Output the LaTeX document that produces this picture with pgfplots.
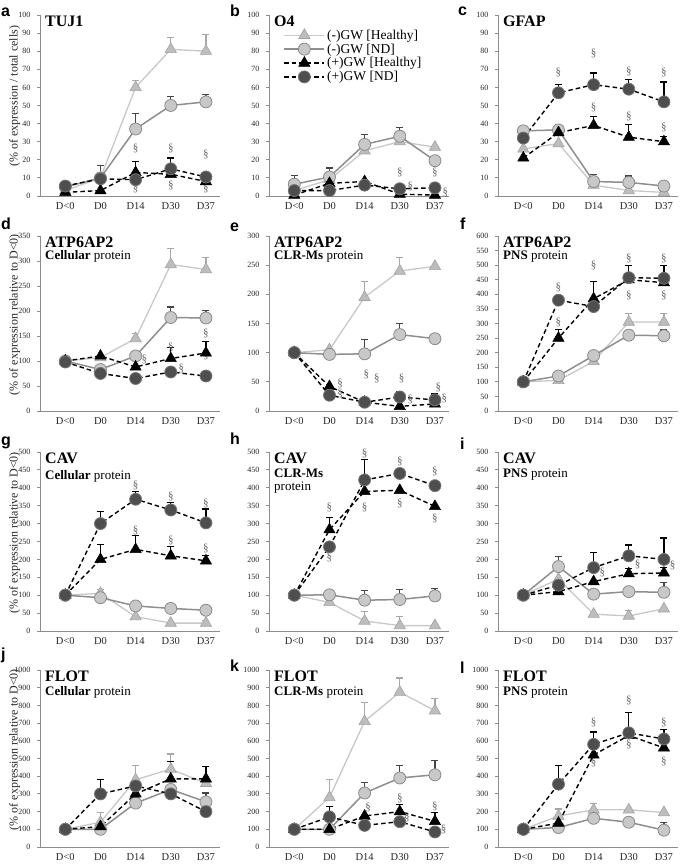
\documentclass[border=0pt]{standalone}
\usepackage{pgfplots}
\pgfplotsset{compat=1.18}
\usepackage{fontspec}
\setmainfont{Liberation Serif}
\newfontfamily\arial{Liberation Sans}

\definecolor{c1line}{HTML}{C8C8C8}
\definecolor{c1fill}{HTML}{BDBDBD}
\definecolor{c1edge}{HTML}{A2A2A2}
\definecolor{c1err}{HTML}{A8A8A8}
\definecolor{c2line}{HTML}{8E8E8E}
\definecolor{c2fill}{HTML}{C8C8C8}
\definecolor{c2edge}{HTML}{8A8A8A}
\definecolor{c2err}{HTML}{454545}
\definecolor{c4fill}{HTML}{4E4E4E}
\definecolor{c4edge}{HTML}{767676}
\definecolor{axgray}{HTML}{8C8C8C}
\definecolor{sgray}{HTML}{666666}

\pgfplotsset{
  pan/.style={scale only axis, width=180pt, anchor=south west, clip=false,
    xmin=-0.72, xmax=4.4, ymin=0,
    xtick={0,1,2,3,4}, xticklabels={D<0,D0,D14,D30,D37},
    axis x line*=bottom, axis y line*=left,
    axis line style={draw=axgray, line width=0.9pt, -},
    tick align=outside, major tick length=3pt,
    xtick style={draw=none}, ytick style={draw=axgray, line width=0.8pt},
    xticklabel style={font=\fontsize{10.5}{12}\selectfont, text=black!85},
    yticklabel style={font=\fontsize{8}{9}\selectfont, text=black!85, xshift=-3pt},
    /pgf/number format/assume math mode=true, /pgf/number format/1000 sep={},
    ylabel style={font=\fontsize{12}{13}\selectfont, text=black!85, at={(axis description cs:-0.14,0.55)}, anchor=center},
  },
  s1/.style={color=c1line, line width=1.3pt, mark=triangle*, mark size=6.5pt,
    mark options={fill=c1fill, draw=c1edge, line width=0.6pt}},
  s2/.style={color=c2line, line width=1.5pt, mark=*, mark size=6pt,
    mark options={fill=c2fill, draw=c2edge, line width=0.8pt}},
  s3/.style={color=black, line width=1.4pt, dash pattern=on 4.5pt off 3pt, mark=triangle*, mark size=6.5pt,
    mark options={solid, fill=black, draw=black, line width=0.5pt}},
  s4/.style={color=black, line width=1.4pt, dash pattern=on 4.5pt off 3pt, mark=*, mark size=6pt,
    mark options={solid, fill=c4fill, draw=c4edge, line width=0.8pt}},
  eb/.style={forget plot, draw=none, mark=none,
    error bars/.cd, y dir=plus, y explicit, error mark=|,
    error bar style={draw=#1, line width=1.2pt, solid},
    error mark options={draw=#1, line width=1.2pt, mark size=3.5pt}},
}

\newcommand{\sect}[2]{\node[inner sep=0, text=sgray, font=\fontsize{11}{11}\selectfont] at (axis cs:#1,#2) {\S};}
\newcommand{\ttl}[1]{\node[anchor=base west, inner sep=0, xshift=5pt, yshift=-12pt, font=\fontsize{16}{16}\selectfont\bfseries] at (rel axis cs:0,1) {#1};}
\newcommand{\sub}[2]{\node[anchor=base west, inner sep=0, xshift=5pt, yshift=-#1, font=\fontsize{13}{14}\selectfont] at (rel axis cs:0,1) {#2};}

\begin{document}
\begin{tikzpicture}
\path[use as bounding box] (0,0) rectangle (685pt,866pt);

% ---------- a: TUJ1
\begin{axis}[pan, at={(40pt,670pt)}, height=181pt, ymax=100, ytick={0,10,...,100},
  ylabel={(\% of expression / total cells)}]
\addplot[eb=c1err] coordinates {(2,60) +- (0,4) (3,81) +- (0,6.5) (4,80) +- (0,9)};
\addplot[eb=c2err] coordinates {(1,10) +- (0,7) (2,37) +- (0,8.5) (3,50) +- (0,5) (4,52) +- (0,4)};
\addplot[eb=black] coordinates {(2,13) +- (0,6)};
\addplot[eb=black] coordinates {(3,15) +- (0,6)};
\addplot[s1] coordinates {(0,3) (1,10) (2,60) (3,81) (4,80)};
\addplot[s2] coordinates {(0,5) (1,10) (2,37) (3,50) (4,52)};
\addplot[s3] coordinates {(0,2) (1,3) (2,13) (3,12) (4,8)};
\addplot[s4] coordinates {(0,5.5) (1,9.5) (2,9) (3,15) (4,10.5)};
\sect{2}{26}\sect{2}{4}\sect{3}{26}\sect{3}{6}\sect{4}{23}\sect{4}{4}
\ttl{TUJ1}
\end{axis}

% ---------- b: O4
\begin{axis}[pan, at={(269pt,670pt)}, height=181pt, ymax=100, ytick={0,10,...,100},
  legend entries={(-)GW [Healthy],(-)GW [ND],(+)GW [Healthy],(+)GW [ND]},
  legend style={draw=none, fill=none, at={(axis description cs:0.08,0.93)}, anchor=north west,
    font=\fontsize{13.5}{15}\selectfont, row sep=-1pt, inner sep=0pt, cells={anchor=west}},
  legend image code/.code={\draw[mark repeat=2,mark phase=2] plot coordinates {(0pt,0pt)(20pt,0pt)(40pt,0pt)};}]
\addplot[eb=c2err] coordinates {(0,6.5) +- (0,5) (1,10.5) +- (0,5) (2,28.5) +- (0,5.5) (3,33) +- (0,5)};
\addplot[s1] coordinates {(0,3) (1,9) (2,25) (3,30) (4,27)};
\addplot[s2] coordinates {(0,6.5) (1,10.5) (2,28.5) (3,33) (4,19.5)};
\addplot[s3] coordinates {(0,0.5) (1,7) (2,8) (3,1) (4,0.5)};
\addplot[s4] coordinates {(0,3) (1,3) (2,6) (3,4) (4,4.5)};
\sect{3}{13}\sect{3.3}{5}\sect{4}{13}\sect{4.3}{2}
\ttl{O4}
\end{axis}

% ---------- c: GFAP
\begin{axis}[pan, at={(498pt,670pt)}, height=181pt, ymax=100, ytick={0,10,...,100}]
\addplot[eb=c2err] coordinates {(2,8) +- (0,4) (3,7.5) +- (0,3.5)};
\addplot[eb=black] coordinates {(2,39) +- (0,5) (3,32.5) +- (0,7) (4,30) +- (0,3)};
\addplot[eb=black] coordinates {(1,57) +- (0,4.5) (2,61.5) +- (0,6.5) (3,59) +- (0,5.5) (4,52) +- (0,11)};
\addplot[s1] coordinates {(0,26) (1,29) (2,6) (3,3) (4,2)};
\addplot[s2] coordinates {(0,36) (1,36.5) (2,8) (3,7.5) (4,5.5)};
\addplot[s3] coordinates {(0,21) (1,35) (2,39) (3,32.5) (4,30)};
\addplot[s4] coordinates {(0,32) (1,57) (2,61.5) (3,59) (4,52)};
\sect{1}{68}\sect{2}{79}\sect{3}{69}\sect{4}{68}\sect{2}{49}\sect{3}{44}\sect{4}{38}
\ttl{GFAP}
\end{axis}

% ---------- d: ATP6AP2 cellular
\begin{axis}[pan, at={(40pt,455pt)}, height=175pt, ymax=350, ytick={0,50,...,350},
  ylabel={(\% of expression relative to D<0)}]
\addplot[eb=c1err] coordinates {(2,145) +- (0,10) (3,293) +- (0,32) (4,283) +- (0,24)};
\addplot[eb=c2err] coordinates {(3,187) +- (0,21) (4,186) +- (0,15)};
\addplot[eb=black] coordinates {(3,105) +- (0,22) (4,116) +- (0,23)};
\addplot[s1] coordinates {(0,100) (1,107) (2,145) (3,293) (4,283)};
\addplot[s2] coordinates {(0,100) (1,83) (2,110) (3,187) (4,186)};
\addplot[s3] coordinates {(0,100) (1,110) (2,88) (3,105) (4,116)};
\addplot[s4] coordinates {(0,98) (1,75) (2,65) (3,78) (4,70)};
\sect{2.25}{103}\sect{3}{128}\sect{3.3}{85}\sect{4}{155}\sect{4}{112}
\ttl{ATP6AP2}\sub{24pt}{\textbf{Cellular} protein}
\end{axis}

% ---------- e: ATP6AP2 CLR-Ms
\begin{axis}[pan, at={(269pt,455pt)}, height=175pt, ymax=300, ytick={0,50,...,300}]
\addplot[eb=c1err] coordinates {(2,195) +- (0,27) (3,240) +- (0,23)};
\addplot[eb=c2err] coordinates {(2,98) +- (0,24) (3,131) +- (0,19)};
\addplot[eb=black] coordinates {(3,24) +- (0,10) (4,19) +- (0,10)};
\addplot[s1] coordinates {(0,100) (1,105) (2,195) (3,240) (4,248)};
\addplot[s2] coordinates {(0,100) (1,97) (2,98) (3,131) (4,124)};
\addplot[s3] coordinates {(0,100) (1,42) (2,15) (3,8) (4,12)};
\addplot[s4] coordinates {(0,100) (1,27) (2,15) (3,24) (4,19)};
\sect{1.3}{47}\sect{1.3}{30}\sect{2.05}{62}\sect{2.35}{56}\sect{3.05}{56}\sect{3.3}{20}\sect{4.1}{40}\sect{4.27}{21}
\ttl{ATP6AP2}\sub{24pt}{\textbf{CLR-Ms} protein}
\end{axis}

% ---------- f: ATP6AP2 PNS
\begin{axis}[pan, at={(498pt,455pt)}, height=175pt, ymax=600, ytick={0,50,...,600}]
\addplot[eb=c1err] coordinates {(3,305) +- (0,30) (4,305) +- (0,30)};
\addplot[eb=c2err] coordinates {(2,190) +- (0,15) (4,258) +- (0,20)};
\addplot[eb=black] coordinates {(1,250) +- (0,30) (2,385) +- (0,60)};
\addplot[eb=black] coordinates {(3,457) +- (0,43) (4,455) +- (0,45)};
\addplot[s1] coordinates {(0,100) (1,105) (2,170) (3,305) (4,305)};
\addplot[s2] coordinates {(0,100) (1,120) (2,190) (3,260) (4,258)};
\addplot[s3] coordinates {(0,100) (1,250) (2,385) (3,450) (4,440)};
\addplot[s4] coordinates {(0,100) (1,380) (2,358) (3,457) (4,455)};
\sect{1}{425}\sect{1}{303}\sect{2}{500}\sect{3}{522}\sect{3}{397}\sect{4}{522}\sect{4}{397}
\ttl{ATP6AP2}\sub{24pt}{\textbf{PNS} protein}
\end{axis}

% ---------- g: CAV cellular
\begin{axis}[pan, at={(40pt,235pt)}, height=179pt, ymax=500, ytick={0,50,...,500},
  ylabel={(\% of expression relative to D<0)}]
\addplot[eb=c1err] coordinates {(1,105) +- (0,12) (4,22) +- (0,8)};
\addplot[eb=black] coordinates {(1,200) +- (0,42) (2,228) +- (0,39) (3,210) +- (0,27) (4,196) +- (0,16)};
\addplot[eb=black] coordinates {(1,300) +- (0,33) (2,368) +- (0,22) (3,338) +- (0,22) (4,302) +- (0,39)};
\addplot[s1] coordinates {(0,100) (1,105) (2,40) (3,22) (4,22)};
\addplot[s2] coordinates {(0,100) (1,93) (2,70) (3,63) (4,58)};
\addplot[s3] coordinates {(0,100) (1,200) (2,228) (3,210) (4,196)};
\addplot[s4] coordinates {(0,100) (1,300) (2,368) (3,338) (4,302)};
\sect{2}{406}\sect{2}{280}\sect{3}{375}\sect{3}{252}\sect{4}{357}\sect{4}{230}
\ttl{CAV}\sub{28pt}{\textbf{Cellular} protein}
\end{axis}

% ---------- h: CAV CLR-Ms
\begin{axis}[pan, at={(269pt,235pt)}, height=179pt, ymax=500, ytick={0,50,...,500}]
\addplot[eb=c1err] coordinates {(2,28) +- (0,27) (3,15) +- (0,25)};
\addplot[eb=c2err] coordinates {(2,86) +- (0,27) (3,88) +- (0,28) (4,98) +- (0,20)};
\addplot[eb=black] coordinates {(1,283) +- (0,33)};
\addplot[eb=black] coordinates {(2,422) +- (0,56)};
\addplot[s1] coordinates {(0,100) (1,80) (2,28) (3,15) (4,15)};
\addplot[s2] coordinates {(0,100) (1,101) (2,86) (3,88) (4,98)};
\addplot[s3] coordinates {(0,100) (1,283) (2,390) (3,393) (4,348)};
\addplot[s4] coordinates {(0,100) (1,235) (2,422) (3,440) (4,406)};
\sect{1}{346}\sect{1}{205}\sect{2}{497}\sect{2}{345}\sect{3}{474}\sect{3}{356}\sect{4}{445}\sect{4}{314}
\ttl{CAV}\sub{26pt}{\textbf{CLR-Ms}}\sub{39pt}{protein}
\end{axis}

% ---------- i: CAV PNS
\begin{axis}[pan, at={(498pt,235pt)}, height=179pt, ymax=500, ytick={0,50,...,500}]
\addplot[eb=c1err] coordinates {(3,42) +- (0,15)};
\addplot[eb=c2err] coordinates {(1,180) +- (0,27) (4,108) +- (0,27)};
\addplot[eb=black] coordinates {(3,160) +- (0,15) (4,162) +- (0,15)};
\addplot[eb=black] coordinates {(2,177) +- (0,43) (3,210) +- (0,30) (4,200) +- (0,60)};
\addplot[s1] coordinates {(0,100) (1,145) (2,47) (3,42) (4,62)};
\addplot[s2] coordinates {(0,100) (1,180) (2,103) (3,110) (4,108)};
\addplot[s3] coordinates {(0,100) (1,110) (2,138) (3,160) (4,162)};
\addplot[s4] coordinates {(0,100) (1,128) (2,177) (3,210) (4,200)};
\sect{2.25}{164}\sect{3.25}{187}\sect{4.25}{183}
\ttl{CAV}\sub{26pt}{\textbf{PNS} protein}
\end{axis}

% ---------- j: FLOT cellular
\begin{axis}[pan, at={(40pt,19pt)}, height=177pt, ymax=1000, ytick={0,100,...,1000},
  ylabel={(\% of expression relative to D<0)}]
\addplot[eb=c1err] coordinates {(1,140) +- (0,55) (2,380) +- (0,80) (3,440) +- (0,85)};
\addplot[eb=c2err] coordinates {(4,255) +- (0,50)};
\addplot[eb=black] coordinates {(3,385) +- (0,100) (4,385) +- (0,70)};
\addplot[eb=black] coordinates {(1,300) +- (0,80)};
\addplot[s1] coordinates {(0,100) (1,140) (2,380) (3,440) (4,360)};
\addplot[s2] coordinates {(0,100) (1,100) (2,248) (3,325) (4,255)};
\addplot[s3] coordinates {(0,100) (1,115) (2,300) (3,385) (4,385)};
\addplot[s4] coordinates {(0,100) (1,300) (2,345) (3,300) (4,200)};
\ttl{FLOT}\sub{26pt}{\textbf{Cellular} protein}
\end{axis}

% ---------- k: FLOT CLR-Ms
\begin{axis}[pan, at={(269pt,19pt)}, height=177pt, ymax=1000, ytick={0,100,...,1000}]
\addplot[eb=c1err] coordinates {(1,280) +- (0,100) (2,710) +- (0,105) (3,875) +- (0,80) (4,770) +- (0,70)};
\addplot[eb=c2err] coordinates {(2,305) +- (0,60) (3,390) +- (0,70) (4,408) +- (0,80)};
\addplot[eb=black] coordinates {(3,200) +- (0,40) (4,145) +- (0,50)};
\addplot[eb=black] coordinates {(1,170) +- (0,60)};
\addplot[s1] coordinates {(0,100) (1,280) (2,710) (3,875) (4,770)};
\addplot[s2] coordinates {(0,100) (1,100) (2,305) (3,390) (4,408)};
\addplot[s3] coordinates {(0,100) (1,100) (2,175) (3,200) (4,145)};
\addplot[s4] coordinates {(0,100) (1,170) (2,122) (3,143) (4,85)};
\sect{2.1}{225}\sect{3}{275}\sect{3.2}{165}\sect{4}{230}\sect{4.25}{100}
\ttl{FLOT}\sub{26pt}{\textbf{CLR-Ms} protein}
\end{axis}

% ---------- l: FLOT PNS
\begin{axis}[pan, at={(498pt,19pt)}, height=177pt, ymax=1000, ytick={0,100,...,1000}]
\addplot[eb=c1err] coordinates {(1,175) +- (0,40) (2,210) +- (0,35)};
\addplot[eb=c2err] coordinates {(4,95) +- (0,45)};
\addplot[eb=black] coordinates {(1,355) +- (0,105) (2,580) +- (0,70) (3,645) +- (0,115) (4,610) +- (0,55)};
\addplot[s1] coordinates {(0,100) (1,175) (2,210) (3,210) (4,195)};
\addplot[s2] coordinates {(0,100) (1,110) (2,162) (3,140) (4,95)};
\addplot[s3] coordinates {(0,100) (1,135) (2,520) (3,630) (4,560)};
\addplot[s4] coordinates {(0,100) (1,355) (2,580) (3,645) (4,610)};
\sect{2}{703}\sect{2}{476}\sect{3}{826}\sect{3}{580}\sect{4}{703}\sect{4}{486}
\ttl{FLOT}\sub{26pt}{\textbf{PNS} protein}
\end{axis}

% panel letters
\begin{scope}[every node/.style={anchor=base west, inner sep=0, font=\arial\bfseries\fontsize{16}{16}\selectfont}]
\node at (1pt,849pt) {a};
\node at (230pt,849pt) {b};
\node at (458pt,850pt) {c};
\node at (1pt,636pt) {d};
\node at (230pt,634pt) {e};
\node at (460pt,636pt) {f};
\node at (1pt,420pt) {g};
\node at (230pt,421pt) {h};
\node at (460pt,416pt) {i};
\node at (1pt,206pt) {j};
\node at (230pt,194pt) {k};
\node at (460pt,192pt) {l};
\end{scope}
\end{tikzpicture}
\end{document}
